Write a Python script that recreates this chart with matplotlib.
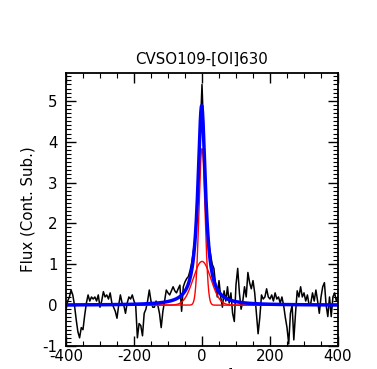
import numpy as np
import matplotlib
matplotlib.use("Agg")
import matplotlib.pyplot as plt
from matplotlib.ticker import MultipleLocator

plt.rcParams['axes.unicode_minus'] = False

# observed [OI] 6300 profile, continuum subtracted, 5 km/s bins
velocity = np.arange(-400, 401, 5)
flux = [
    -0.12, 0.10, 0.20, 0.37, 0.25, 0.00, -0.35, -0.65, -0.80, -0.55,
    -0.60, -0.25, 0.05, 0.25, 0.10, 0.20, 0.15, 0.20, 0.10, 0.25,
    -0.05, 0.10, 0.33, 0.20, 0.25, 0.15, 0.30, 0.05, -0.05, -0.15,
    -0.32, 0.00, 0.25, 0.05, 0.00, -0.20, 0.05, 0.20, 0.15, 0.25,
    0.10, 0.00, -0.80, -0.45, -0.50, -0.75, -0.20, -0.10, 0.10, 0.37,
    0.10, -0.05, -0.05, 0.10, 0.00, -0.20, -0.55, -0.15, 0.10, 0.37,
    0.30, 0.25, 0.35, 0.45, 0.35, 0.30, 0.40, 0.49, -0.15, 0.45,
    0.57, 0.65, 0.70, 0.85,
    # line core
    1.05, 1.35, 1.65, 2.25, 3.10, 4.30, 5.40, 4.20, 3.00, 2.10,
    1.50, 1.25, 1.00,
    # red side
    0.90, 0.50, 0.20, 0.60, 0.20, -0.05, 0.35, 0.10, 0.45, 0.05,
    0.30, -0.20, -0.40, 0.50, 0.90, 0.30, -0.10, 0.10, 0.45, 0.20,
    0.80, 0.55, 0.40, 0.60, 0.30, -0.20, -0.70, -0.30, 0.25, 0.15,
    0.20, 0.40, 0.20, 0.15, 0.25, 0.10, 0.30, 0.15, 0.20, 0.05,
    0.20, 0.00, -0.30, -0.55, -0.95, -0.20, 0.00, -0.85, -0.20, 0.35,
    0.20, 0.45, 0.20, 0.30, 0.10, 0.25, 0.00, 0.05, 0.30, 0.10,
    0.37, 0.10, -0.20, 0.20, 0.45, 0.55, 0.00, -0.28, 0.20, -0.28,
    0.20, 0.30, 0.10, 0.20,
]

# gaussian components (amp, center, sigma) in km/s
narrow = (3.83, 0.0, 9.0)
broad = (1.07, 0.0, 26.0)
# total fit, lorentzian-like (amp, center, hwhm)
total = (4.88, -1.0, 13.5)


def gauss(x, a, c, s):
    return a * np.exp(-(x - c)**2 / (2 * s**2))


def lorentz(x, a, c, g):
    return a / (1 + ((x - c) / g)**2)


vfine = np.linspace(-400, 400, 1601)

fig = plt.figure(figsize=(3.77, 3.69), dpi=100)
ax = fig.add_axes([0.175, 0.0623, 0.7216, 0.7398])

ax.plot(velocity, flux, color='black', lw=1.1)
ax.plot(vfine, gauss(vfine, *narrow), color='red', lw=1.0)
ax.plot(vfine, gauss(vfine, *broad), color='red', lw=1.0)
ax.plot(vfine, lorentz(vfine, *total), color='blue', lw=2.5)

ax.set_xlim(-400, 400)
ax.set_ylim(-1, 5.68)
ax.xaxis.set_major_locator(MultipleLocator(200))
ax.xaxis.set_minor_locator(MultipleLocator(50))
ax.yaxis.set_major_locator(MultipleLocator(1))
ax.yaxis.set_minor_locator(MultipleLocator(0.1))

ax.tick_params(which='both', direction='in', top=True, right=True, labelsize=10.8)
ax.tick_params(which='major', length=7, width=1)
ax.tick_params(which='minor', length=3.5, width=0.8)
ax.tick_params(axis='x', pad=2.5)
ax.tick_params(axis='y', pad=6)
for sp in ax.spines.values():
    sp.set_linewidth(1.3)

ax.set_title('CVSO109-[OI]630', fontsize=10.8, pad=7)
ax.set_ylabel('Flux (Cont. Sub.)', fontsize=10.8, labelpad=5)
ax.set_xlabel('v (km s$^{-1}$)', fontsize=10.8, labelpad=1)

fig.savefig('out.png', dpi=100)
